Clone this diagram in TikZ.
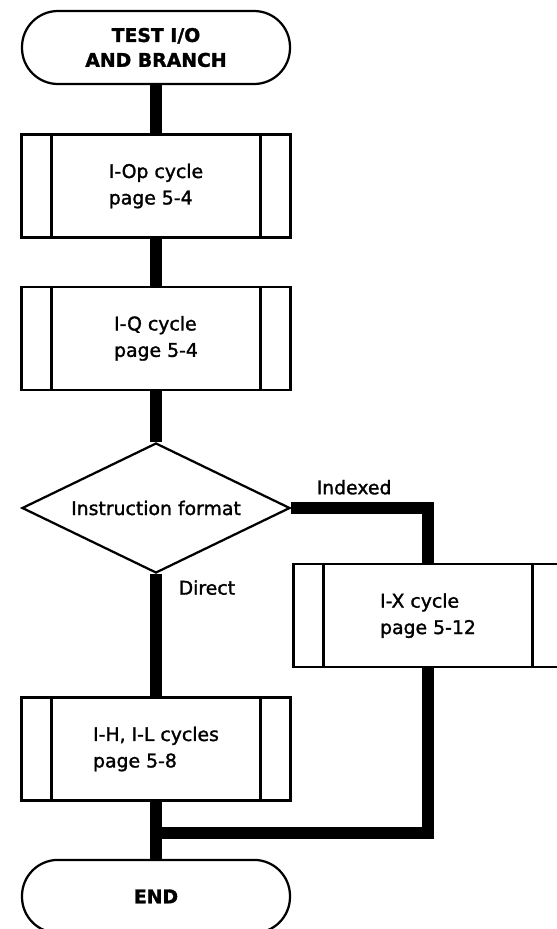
\documentclass[tikz,border=0pt]{standalone}
\usepackage{fontspec}
\setmainfont{DejaVu Sans}[RawFeature={embolden=1.5}]
\usetikzlibrary{shapes.geometric}

\begin{document}
\begin{tikzpicture}[
    font=\fontsize{13.4}{18.8}\selectfont,
    terminal/.style={draw, line width=1.6pt, rounded corners=0.9cm,
        minimum width=6.7cm, minimum height=1.825cm, align=center,
        font=\fontsize{13.4}{17.7}\selectfont\bfseries},
    cyclebox/.style={draw, line width=1.6pt, minimum width=6.725cm,
        minimum height=2.575cm, align=left,
        path picture={
            \draw[line width=1.6pt] ([xshift=0.75cm]path picture bounding box.north west)
                -- ([xshift=0.75cm]path picture bounding box.south west);
            \draw[line width=1.6pt] ([xshift=-0.75cm]path picture bounding box.north east)
                -- ([xshift=-0.75cm]path picture bounding box.south east);
        }},
    decision/.style={diamond, draw, line width=1.6pt, aspect=2.06,
        minimum width=6.7cm, minimum height=3.25cm, inner sep=0pt},
    flow/.style={line width=0.3cm},
]

    \useasboundingbox (0,0) rectangle (13.9,-23.225);

    % Main column
    \node[terminal] (start) at (3.9,-1.1875) {TEST I/O\\AND BRANCH};
    \node[cyclebox] (op)    at (3.9,-4.65)   {I-Op cycle\\page 5-4};
    \node[cyclebox] (q)     at (3.9,-8.46)   {I-Q cycle\\page 5-4};
    \node[decision] (fmt)   at (3.9,-12.7)   {Instruction format};
    \node[cyclebox] (ih)    at (3.9,-18.725) {I-H, I-L cycles\\page 5-8};
    \node[terminal] (stop)  at (3.9,-22.41)  {END};

    % Indexed branch
    \node[cyclebox] (ix) at (10.7,-15.39) {I-X cycle\\page 5-12};
    \coordinate (merge) at (3.9,-20.825);

    % Flow lines
    \draw[flow] (start) -- (op);
    \draw[flow] (op) -- (q);
    \draw[flow] (q) -- (fmt);
    \draw[flow] (fmt.east) -| (ix.north) node[pos=0.23, above, yshift=2pt] {Indexed};
    \draw[flow] (fmt.south) -- (ih.north) node[pos=0.11, right, xshift=0.3cm] {Direct};
    \draw[flow] (ix.south) |- (merge);
    \draw[flow] (ih) -- (stop);

\end{tikzpicture}
\end{document}
